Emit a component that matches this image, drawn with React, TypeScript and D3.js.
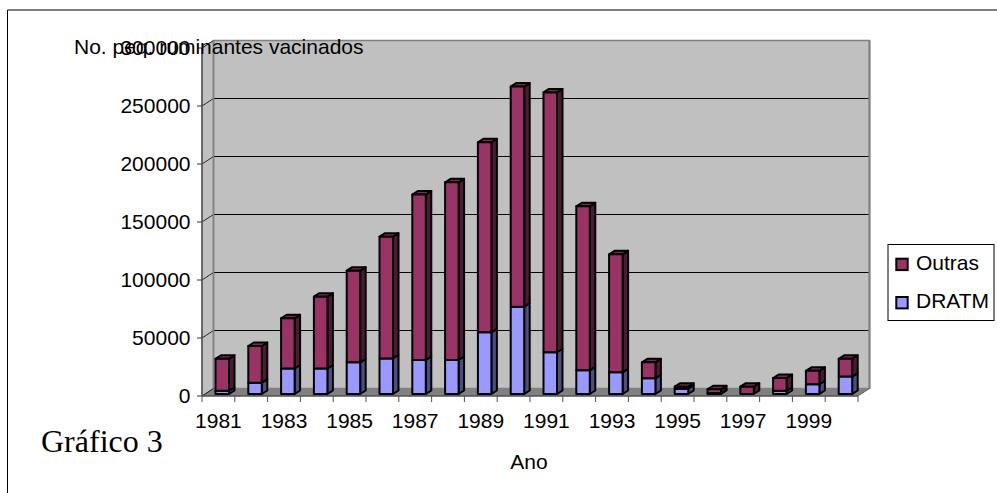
import React from "react";
import * as d3 from "d3";

const years = ["1981","1982","1983","1984","1985","1986","1987","1988","1989","1990","1991","1992","1993","1994","1995","1996","1997","1998","1999","2000"];
const dratm = [2800,9800,22000,22000,27300,30700,29300,29300,53200,75300,36000,20400,18700,13500,4500,800,0,2800,8400,15000];
const totals = [30400,41400,65300,83900,106300,135600,172000,182500,217000,265000,260000,161800,120400,27300,6300,4000,6300,13800,20000,30400];
const yTicks = [0,50000,100000,150000,200000,250000,300000];
const xLabels = years.filter((_, i) => i % 2 === 0);

const FONT = "'Liberation Sans', Arial, sans-serif";
const FS = 21;
const W = 997, H = 493;
const left = 202, right = 858, base = 396, top = 48;
const dx = 11.5, dy = -7.5;
const barW = 13.5, barInset = 13.5, bdx = 5.5, bdy = -3.5, barLift = 2;

const x = d3.scaleBand<string>().domain(years).range([left, right]);
const y = d3.scaleLinear().domain([0, 300000]).range([base, top]);

function Segment({ x0, y0, y1, front, side, cap }: { x0: number; y0: number; y1: number; front: string; side: string; cap?: string }) {
  const x1 = x0 + barW;
  const pts = (a: number[][]) => a.map((p) => p.join(",")).join(" ");
  return (
    <g stroke="#000" strokeWidth={2} strokeLinejoin="round">
      <polygon points={pts([[x1, y0], [x1 + bdx, y0 + bdy], [x1 + bdx, y1 + bdy], [x1, y1]])} fill={side} />
      {cap && <polygon points={pts([[x0, y1], [x0 + bdx, y1 + bdy], [x1 + bdx, y1 + bdy], [x1, y1]])} fill={cap} />}
      <rect x={x0} y={y1} width={barW} height={y0 - y1} fill={front} />
    </g>
  );
}

export default function App() {
  return (
    <svg width={W} height={H} style={{ position: "absolute", left: 0, top: 0, background: "#fff" }}>
      <path d={`M997 10H7.5V493`} fill="none" stroke="#000" strokeWidth={1} />

      {/* walls */}
      <polygon points={`${left},${base} ${left},${top} ${left + dx},${top + dy} ${left + dx},${base + dy}`} fill="#c0c0c0" stroke="#808080" strokeWidth={1} />
      <rect x={left + dx} y={top + dy} width={right - left} height={base - top} fill="#c0c0c0" stroke="#808080" strokeWidth={1.5} />
      <polygon points={`${left},${base} ${left + dx},${base + dy} ${right + dx},${base + dy} ${right},${base}`} fill="#808080" />
      <line x1={right + dx} x2={right + dx} y1={top + dy} y2={base + dy} stroke="#808080" strokeWidth={2} />

      {yTicks.slice(1, -1).map((t) => (
        <line key={t} x1={left + dx} x2={right + dx - 1} y1={y(t) + dy} y2={y(t) + dy} stroke="#000" strokeWidth={1} />
      ))}
      {yTicks.map((t) => (
        <path key={t} d={`M${left - 5} ${y(t)}H${left}L${left + dx} ${y(t) + dy}`} fill="none" stroke="#000" strokeWidth={0.8} />
      ))}
      <line x1={left + dx} x2={left + dx} y1={top + dy} y2={base + dy} stroke="#808080" strokeWidth={1.5} />
      <line x1={left} x2={left} y1={top} y2={base} stroke="#505050" strokeWidth={1.5} />
      <line x1={left} x2={right} y1={base} y2={base} stroke="#505050" strokeWidth={1.5} />
      <line x1={right} x2={right + dx} y1={base} y2={base + dy} stroke="#505050" strokeWidth={0.8} />
      {d3.range(years.length + 1).map((i) => {
        const px = left + (i * (right - left)) / years.length;
        return <line key={i} x1={px} x2={px} y1={base} y2={base + 6} stroke="#505050" strokeWidth={1} />;
      })}

      {/* bars */}
      {years.map((yr, i) => {
        const x0 = (x(yr) as number) + barInset;
        const yB = (v: number) => y(v) - barLift;
        return (
          <g key={yr}>
            {dratm[i] > 0 && <Segment x0={x0} y0={yB(0)} y1={yB(dratm[i])} front="#9999ff" side="#4d4d80" />}
            <Segment x0={x0} y0={yB(dratm[i])} y1={yB(totals[i])} front="#993366" side="#4d1a33" cap="#7a2952" />
          </g>
        );
      })}

      {/* tick labels */}
      <g fontFamily={FONT} fontSize={FS} fill="#000">
        {yTicks.map((t) => (
          <text key={t} x={190.5} y={y(t) + 7} textAnchor="end">{t}</text>
        ))}
        {xLabels.map((l) => (
          <text key={l} x={(x(l) as number) + x.bandwidth() / 2} y={428} textAnchor="middle">{l}</text>
        ))}
      </g>

      <text x={74} y={54} fontFamily={FONT} fontSize={FS} fill="#000">No. peq. ruminantes vacinados</text>
      <text x={529} y={469} fontFamily={FONT} fontSize={FS} textAnchor="middle" fill="#000">Ano</text>
      <text x={41} y={452} fontFamily="'Liberation Serif', 'Times New Roman', serif" fontSize={32} fill="#000">Gráfico 3</text>

      {/* legend */}
      <rect x={888} y={244.5} width={106} height={76} fill="#fff" stroke="#000" strokeWidth={1} />
      <rect x={896.3} y={258.7} width={11.4} height={11.4} fill="#993366" stroke="#000" strokeWidth={2} />
      <rect x={896.3} y={297} width={11.4} height={11.4} fill="#9999ff" stroke="#000" strokeWidth={2} />
      <g fontFamily={FONT} fontSize={FS} fill="#000">
        <text x={916} y={269.5}>Outras</text>
        <text x={916} y={308}>DRATM</text>
      </g>
    </svg>
  );
}
